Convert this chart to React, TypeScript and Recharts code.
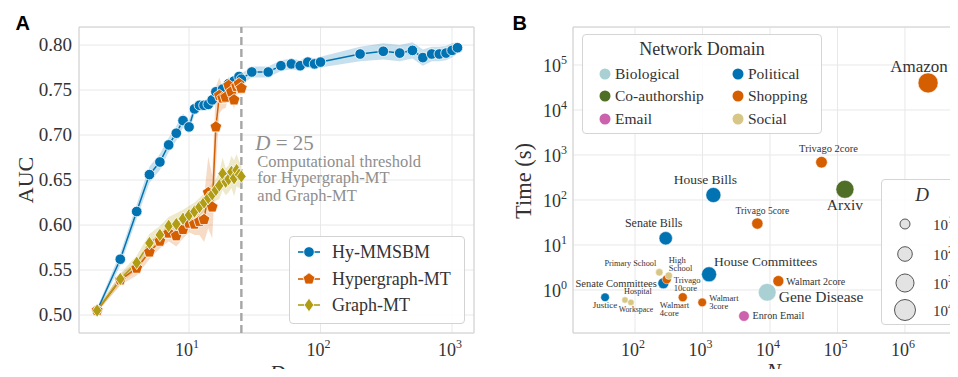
import React from 'react';
import {
  ComposedChart, ScatterChart, Scatter, Line, Area, XAxis, YAxis,
  CartesianGrid, ReferenceLine, ReferenceArea, Legend, Label,
} from 'recharts';

const SERIF = '"Liberation Serif", "Times New Roman", serif';
const SANS = '"Liberation Sans", Arial, sans-serif';
const INK = '#333333';
const GRID = '#e8e8e8';
const FRAME = '#d2d2d2';

// ---------------- Panel A data ----------------
const hyD = [2, 3, 4, 5, 6, 7, 8, 9, 10, 11, 12, 13, 14, 15, 16, 18, 20, 22, 24, 25,
  30, 40, 50, 60, 70, 80, 90, 100, 200, 300, 400, 500, 600, 700, 800, 900, 1000, 1100];
const hyAUC = [0.505, 0.562, 0.615, 0.656, 0.670, 0.689, 0.702, 0.716, 0.709, 0.729, 0.733, 0.733, 0.734, 0.739, 0.748, 0.751, 0.757, 0.760, 0.765, 0.762,
  0.770, 0.770, 0.777, 0.779, 0.777, 0.781, 0.779, 0.781, 0.790, 0.793, 0.791, 0.794, 0.786, 0.790, 0.790, 0.791, 0.794, 0.797];
const hyErr = [0.003, 0.007, 0.008, 0.009, 0.009, 0.008, 0.008, 0.008, 0.007, 0.006, 0.006, 0.006, 0.006, 0.006, 0.006, 0.006, 0.006, 0.006, 0.006, 0.006,
  0.006, 0.006, 0.006, 0.006, 0.006, 0.006, 0.006, 0.006, 0.008, 0.009, 0.009, 0.009, 0.009, 0.008, 0.008, 0.008, 0.008, 0.006];

const mtD = [2, 3, 4, 5, 6, 7, 8, 9, 10, 11, 12, 13, 14, 15, 16, 17, 18, 19, 20, 21, 22, 23, 24, 25];
const hgAUC = [0.505, 0.539, 0.552, 0.570, 0.582, 0.591, 0.588, 0.595, 0.602, 0.601, 0.604, 0.606, 0.636, 0.620, 0.709, 0.744, 0.741, 0.742, 0.755, 0.748, 0.739, 0.754, 0.757, 0.752];
const hgErr = [0.002, 0.006, 0.008, 0.008, 0.008, 0.009, 0.012, 0.010, 0.010, 0.012, 0.015, 0.025, 0.040, 0.035, 0.045, 0.020, 0.012, 0.012, 0.010, 0.010, 0.010, 0.010, 0.010, 0.008];
const gAUC = [0.505, 0.540, 0.558, 0.580, 0.589, 0.599, 0.601, 0.607, 0.611, 0.615, 0.620, 0.625, 0.630, 0.634, 0.639, 0.644, 0.657, 0.648, 0.651, 0.659, 0.652, 0.661, 0.656, 0.654];
const gErr = [0.002, 0.006, 0.008, 0.010, 0.010, 0.010, 0.012, 0.010, 0.010, 0.010, 0.010, 0.010, 0.012, 0.012, 0.012, 0.015, 0.018, 0.015, 0.015, 0.018, 0.020, 0.018, 0.015, 0.012];

const xDomA: [number, number] = [1.456, 1469];
const yDomA: [number, number] = [0.48, 0.82];
const xTicksA = [10, 100, 1000];
const yTicksA = [0.5, 0.55, 0.6, 0.65, 0.7, 0.75, 0.8];
const threshold = 25;

// ---------------- Panel B data ----------------
const netNames = ['Amazon', 'Arxiv', 'Gene Disease', 'House Bills', 'House Committees', 'Senate Bills',
  'Senate Committees', 'Justice', 'Trivago 2core', 'Trivago 5core', 'Trivago 10core', 'Walmart 2core',
  'Walmart 3core', 'Walmart 4core', 'Enron Email', 'High School', 'Primary School', 'Hospital', 'Workspace'];
const netN = [2.2e6, 1.29e5, 9100, 1450, 1250, 285, 263, 36, 5.8e4, 6500, 295, 13300, 990, 510, 4120, 316, 229, 71, 87];
const netTime = [4.0e4, 173, 0.89, 129, 2.23, 14.1, 1.41, 0.69, 690, 30, 1.73, 1.58, 0.53, 0.69, 0.264, 2.08, 2.47, 0.60, 0.53];
const netD = [4500, 950, 750, 130, 130, 50, 15, 6, 20, 17, 7, 15, 6, 7, 13, 4, 4, 3, 3];
const netDomain = ['Shopping', 'Co-authorship', 'Biological', 'Political', 'Political', 'Political',
  'Political', 'Political', 'Shopping', 'Shopping', 'Shopping', 'Shopping',
  'Shopping', 'Shopping', 'Email', 'Social', 'Social', 'Social', 'Social'];

const domainNames = ['Biological', 'Co-authorship', 'Email', 'Political', 'Shopping', 'Social'];
const domainColors = ['#a9d0d3', '#4f6e26', '#cc62ad', '#0173b2', '#d55e00', '#d7c685'];
const drawOrder = ['Political', 'Shopping', 'Biological', 'Co-authorship', 'Email', 'Social'];
const sizeTicks = [10, 100, 1000, 10000];

const xDomB: [number, number] = [12.05, 9.2e6];
const yDomB: [number, number] = [0.1107, 6.99e5];
const xTicksB = [1e2, 1e3, 1e4, 1e5, 1e6];
const yTicksB = [1, 10, 100, 1e3, 1e4, 1e5];

// label layout (style only)
const labelStyle: Record<string, any> = {
  'Amazon': { dx: -9, dy: -11, anchor: 'middle', size: 17 },
  'Arxiv': { dx: 0, dy: 21, anchor: 'middle', size: 15.5 },
  'Gene Disease': { dx: 11.5, dy: 9.5, anchor: 'start', size: 15.5 },
  'House Bills': { dx: -8, dy: -11, anchor: 'middle', size: 13.5 },
  'House Committees': { dx: 5, dy: -8.5, anchor: 'start', size: 13.5 },
  'Senate Bills': { dx: -12, dy: -11.5, anchor: 'middle', size: 12 },
  'Senate Committees': { dx: -6.5, dy: 4, anchor: 'end', size: 10.5 },
  'Justice': { dx: 0, dy: 10.5, anchor: 'middle', size: 9 },
  'Trivago 2core': { dx: 7, dy: -10, anchor: 'middle', size: 10.5 },
  'Trivago 5core': { dx: 5, dy: -10, anchor: 'middle', size: 9.6 },
  'Trivago 10core': { dx: 7, dy: 3.5, anchor: 'start', size: 8.6, wrap: true, lh: 8 },
  'Walmart 2core': { dx: 8, dy: 3.5, anchor: 'start', size: 10 },
  'Walmart 3core': { dx: 7, dy: -1, anchor: 'start', size: 8.6, wrap: true, lh: 8 },
  'Walmart 4core': { dx: -23, dy: 11, anchor: 'start', size: 8.6, wrap: true, lh: 8 },
  'Enron Email': { dx: 8.5, dy: 3, anchor: 'start', size: 10.2 },
  'High School': { dx: 0, dy: -12.5, anchor: 'start', size: 8.5, wrap: true, lh: 7.5 },
  'Primary School': { dx: -3, dy: -6, anchor: 'end', size: 8.3 },
  'Hospital': { dx: -1, dy: -6, anchor: 'start', size: 8.2 },
  'Workspace': { dx: 5, dy: 9.5, anchor: 'middle', size: 7.8 },
};

// ---------------- helpers ----------------
const BLUE = '#0173b2';
const ORANGE = '#d55e00';
const OLIVE = '#b09d14';

const rowsOf = (ds: number[], m: number[], e: number[]) =>
  ds.map((d, i) => ({ D: d, auc: m[i], band: [m[i] - e[i], m[i] + e[i]] }));

const seriesA = [
  { name: 'Hy-MMSBM', color: BLUE, marker: 'circle', rows: rowsOf(hyD, hyAUC, hyErr) },
  { name: 'Hypergraph-MT', color: ORANGE, marker: 'penta', rows: rowsOf(mtD, hgAUC, hgErr) },
  { name: 'Graph-MT', color: OLIVE, marker: 'diamond', rows: rowsOf(mtD, gAUC, gErr) },
];

const renderMarker = (kind: string, cx: number, cy: number, color: string, key?: any) => {
  if (kind === 'circle') {
    return <circle key={key} cx={cx} cy={cy} r={5.3} fill={color} stroke="#fff" strokeWidth={0.8} />;
  }
  if (kind === 'penta') {
    const r = 6.2;
    const pts = [0, 1, 2, 3, 4].map((k) => {
      const a = ((-90 + 72 * k) * Math.PI) / 180;
      return `${cx + r * Math.cos(a)},${cy + r * Math.sin(a)}`;
    }).join(' ');
    return <polygon key={key} points={pts} fill={color} stroke="#fff" strokeWidth={0.8} />;
  }
  const w = 4.8, h = 6.8;
  return (
    <polygon key={key} points={`${cx},${cy - h} ${cx + w},${cy} ${cx},${cy + h} ${cx - w},${cy}`}
      fill={color} stroke="#fff" strokeWidth={0.8} />
  );
};

const expOf = (v: number) => Math.round(Math.log10(v));

const PowXTick = (p: any) => (
  <text x={p.x - 2} y={p.y + 23} textAnchor="middle" fontFamily={SERIF} fontSize={18} fill={INK}>
    10<tspan dy={-8} fontSize={12}>{expOf(p.payload.value)}</tspan>
  </text>
);
const PowYTick = (p: any) => (
  <text x={p.x} y={p.y + 7} textAnchor="end" fontFamily={SERIF} fontSize={18} fill={INK}>
    10<tspan dy={-8} fontSize={12}>{expOf(p.payload.value)}</tspan>
  </text>
);
const DecYTick = (p: any) => (
  <text x={p.x} y={p.y} dy="0.34em" textAnchor="end" fontFamily={SERIF} fontSize={19} fill={INK}>
    {Number(p.payload.value).toFixed(2)}
  </text>
);

const radiusFor = (D: number) => {
  const area = 78.5 + 89 * (Math.log10(D) - 1);
  return Math.sqrt(Math.max(area, 12) / Math.PI);
};

const ThresholdLabel = (p: any) => {
  const vb = p.viewBox || {};
  const top = Math.min(vb.y, vb.y + (vb.height || 0));
  const x = vb.x + 14;
  const c = '#8e8e8e';
  return (
    <g fontFamily={SERIF} fill={c}>
      <text x={x} y={top + 123} fontSize={21}>
        <tspan fontStyle="italic">D</tspan> = 25
      </text>
      <text x={x + 2} y={top + 139.5} fontSize={16.5}>Computational threshold</text>
      <text x={x + 2} y={top + 156} fontSize={16.5}>for Hypergraph-MT</text>
      <text x={x + 2} y={top + 173.5} fontSize={16.5}>and Graph-MT</text>
    </g>
  );
};

const LegendABox = () => (
  <div style={{ position: 'absolute', left: 289, top: 236, width: 176, height: 88, boxSizing: 'border-box',
    border: '1px solid #d3d3d3', borderRadius: 4, background: 'rgba(255,255,255,0.85)' }}>
    {seriesA.map((s, i) => (
      <div key={s.name} style={{ position: 'absolute', left: 0, top: 15 + 26.5 * i - 12, height: 24,
        display: 'flex', alignItems: 'center' }}>
        <svg width={42} height={24} style={{ display: 'block' }}>
          <line x1={8} x2={30} y1={12} y2={12} stroke={s.color} strokeWidth={1.6} />
          {renderMarker(s.marker, 19, 12, s.color)}
        </svg>
        <span style={{ fontFamily: SERIF, fontSize: 18, color: INK, lineHeight: '24px', whiteSpace: 'nowrap' }}>{s.name}</span>
      </div>
    ))}
  </div>
);

const LegendBBoxes = () => (
  <>
    <div style={{ position: 'absolute', left: 102, top: 34, width: 240, height: 100, boxSizing: 'border-box',
      border: '1px solid #d5d5d5', borderRadius: 4, background: 'rgba(255,255,255,0.85)' }}>
      <div style={{ position: 'absolute', left: 0, top: 4, width: '100%', textAlign: 'center', fontFamily: SERIF,
        fontSize: 18, lineHeight: '20px', color: INK }}>Network Domain</div>
      {domainNames.map((d, i) => {
        const col = Math.floor(i / 3);
        const row = i % 3;
        const mx = col === 0 ? 22 : 155;
        return (
          <div key={d} style={{ position: 'absolute', left: mx - 8, top: 38.5 + 22.5 * row - 10, height: 20,
            display: 'flex', alignItems: 'center' }}>
            <svg width={18} height={20} style={{ display: 'block' }}>
              <circle cx={8} cy={10} r={5.5} fill={domainColors[i]} />
            </svg>
            <span style={{ fontFamily: SERIF, fontSize: 15.5, color: INK, lineHeight: '20px', whiteSpace: 'nowrap' }}>{d}</span>
          </div>
        );
      })}
    </div>
    <div style={{ position: 'absolute', left: 401, top: 179, width: 110, height: 146, boxSizing: 'border-box',
      border: '1px solid #d5d5d5', borderRadius: 4, background: 'rgba(255,255,255,0.85)' }}>
      <svg width={110} height={146} style={{ display: 'block' }}>
        <text x={40} y={21} textAnchor="middle" fontFamily={SERIF} fontStyle="italic" fontSize={19} fill={INK}>D</text>
        {sizeTicks.map((t, i) => {
          const cy = [44, 74, 103, 130][i];
          return (
            <g key={t}>
              <circle cx={23} cy={cy} r={radiusFor(t)} fill="#e3e3e3" stroke="#555" strokeWidth={1} />
              <text x={51} y={cy + 5.5} fontFamily={SERIF} fontSize={15} fill={INK}>
                10<tspan dy={-7} fontSize={10.5}>{expOf(t)}</tspan>
              </text>
            </g>
          );
        })}
      </svg>
    </div>
  </>
);

// ---------------- Panel A ----------------
const PanelA = () => (
  <ComposedChart width={480} height={377} margin={{ top: 27, right: 6, left: 0, bottom: 0 }}>
    <CartesianGrid stroke={GRID} strokeWidth={1} />
    <ReferenceArea x1={xDomA[0]} x2={xDomA[1]} y1={yDomA[0]} y2={yDomA[1]} fill="none" stroke={FRAME}
      strokeWidth={1} ifOverflow="visible" />
    <XAxis type="number" dataKey="D" scale="log" domain={xDomA} ticks={xTicksA} allowDataOverflow
      axisLine={false} tickLine={false} tickSize={0} tickMargin={0} height={44} interval={0}
      tick={(p: any) => <PowXTick {...p} />}>
      <Label content={(p: any) => {
        const vb = p.viewBox;
        return <text x={vb.x + vb.width / 2 + 1} y={vb.y + 47} textAnchor="middle" fontFamily={SERIF}
          fontStyle="italic" fontSize={22} fill={INK}>D</text>;
      }} />
    </XAxis>
    <YAxis type="number" domain={yDomA} ticks={yTicksA} allowDataOverflow width={79}
      axisLine={false} tickLine={false} tickSize={0} tickMargin={7} interval={0}
      tick={(p: any) => <DecYTick {...p} />}>
      <Label content={(p: any) => {
        const vb = p.viewBox;
        const cx = vb.x + 25, cy = vb.y + vb.height / 2;
        return <text transform={`translate(${cx},${cy}) rotate(-90)`} textAnchor="middle" dy="0.35em"
          fontFamily={SERIF} fontSize={22} fill={INK}>AUC</text>;
      }} />
    </YAxis>
    {seriesA.map((s) => (
      <Area key={`band-${s.name}`} data={s.rows} dataKey="band" type="linear" stroke="none"
        fill={s.color} fillOpacity={0.22} isAnimationActive={false} activeDot={false} legendType="none" />
    ))}
    <ReferenceLine x={threshold} stroke="#a6a6a6" strokeWidth={2.4} strokeDasharray="8 4"
      label={(p: any) => <ThresholdLabel {...p} />} />
    {seriesA.map((s) => (
      <Line key={`line-${s.name}`} data={s.rows} dataKey="auc" name={s.name} type="linear" stroke={s.color}
        strokeWidth={1.5} isAnimationActive={false} activeDot={false}
        dot={(p: any) => renderMarker(s.marker, p.cx, p.cy, s.color, `${s.name}-${p.index}`)} />
    ))}
    <Legend verticalAlign="middle" align="center" layout="horizontal"
      wrapperStyle={{ left: 0, top: 0, width: 480, height: 377, pointerEvents: 'none' }}
      content={() => <LegendABox />} />
  </ComposedChart>
);

// ---------------- Panel B ----------------
const netRows = netNames.map((n, i) => ({ name: n, N: netN[i], T: netTime[i], D: netD[i], domain: netDomain[i] }));

const makeShape = (color: string) => (p: any) => {
  const { cx, cy, payload } = p;
  const r = radiusFor(payload.D);
  const s = labelStyle[payload.name];
  const lines = s.wrap ? String(payload.name).split(' ') : [payload.name];
  const lx = cx + s.dx;
  return (
    <g>
      <circle cx={cx} cy={cy} r={r} fill={color} stroke="#fff" strokeWidth={0.5} />
      <text x={lx} y={cy + s.dy} textAnchor={s.anchor} fontFamily={SERIF} fontSize={s.size} fill={INK}>
        {lines.map((ln: string, i: number) => (
          <tspan key={i} x={lx} dy={i === 0 ? 0 : s.lh}>{ln}</tspan>
        ))}
      </text>
    </g>
  );
};

const PanelB = () => (
  <ScatterChart width={500} height={377} margin={{ top: 27, right: 10, left: 0, bottom: 0 }}>
    <CartesianGrid stroke={GRID} strokeWidth={1} />
    <ReferenceArea x1={xDomB[0]} x2={xDomB[1]} y1={yDomB[0]} y2={yDomB[1]} fill="none" stroke={FRAME}
      strokeWidth={1} ifOverflow="visible" />
    <XAxis type="number" dataKey="N" scale="log" domain={xDomB} ticks={xTicksB} allowDataOverflow
      axisLine={false} tickLine={false} tickSize={0} tickMargin={0} height={44} interval={0}
      tick={(p: any) => <PowXTick {...p} />}>
      <Label content={(p: any) => {
        const vb = p.viewBox;
        return <text x={vb.x + vb.width / 2 + 2} y={vb.y + 45} textAnchor="middle" fontFamily={SERIF}
          fontStyle="italic" fontSize={22} fill={INK}>N</text>;
      }} />
    </XAxis>
    <YAxis type="number" dataKey="T" scale="log" domain={yDomB} ticks={yTicksB} allowDataOverflow width={93}
      axisLine={false} tickLine={false} tickSize={0} tickMargin={6} interval={0}
      tick={(p: any) => <PowYTick {...p} />}>
      <Label content={(p: any) => {
        const vb = p.viewBox;
        const cx = vb.x + 43, cy = vb.y + vb.height / 2 + 1;
        return <text transform={`translate(${cx},${cy}) rotate(-90)`} textAnchor="middle" dy="0.35em"
          fontFamily={SERIF} fontSize={22.5} fill={INK}>Time (s)</text>;
      }} />
    </YAxis>
    {drawOrder.map((d) => {
      const color = domainColors[domainNames.indexOf(d)];
      return (
        <Scatter key={d} name={d} data={netRows.filter((r) => r.domain === d)} fill={color}
          isAnimationActive={false} shape={makeShape(color)} />
      );
    })}
    <Legend verticalAlign="middle" align="center" layout="horizontal"
      wrapperStyle={{ left: 0, top: 0, width: 500, height: 377, pointerEvents: 'none' }}
      content={() => <LegendBBoxes />} />
  </ScatterChart>
);

const letterStyle: React.CSSProperties = {
  position: 'absolute', top: 12.5, fontFamily: SANS, fontWeight: 700, fontSize: 20, lineHeight: '20px', color: '#000',
};

export default function App() {
  return (
    <div style={{ position: 'relative', width: 958, height: 377, margin: -8, overflow: 'hidden', background: '#fff' }}>
      <div style={{ position: 'absolute', left: 0, top: 0 }}><PanelA /></div>
      <div style={{ position: 'absolute', left: 480, top: 0 }}><PanelB /></div>
      <div style={{ ...letterStyle, left: 15.5 }}>A</div>
      <div style={{ ...letterStyle, left: 512.5 }}>B</div>
    </div>
  );
}
